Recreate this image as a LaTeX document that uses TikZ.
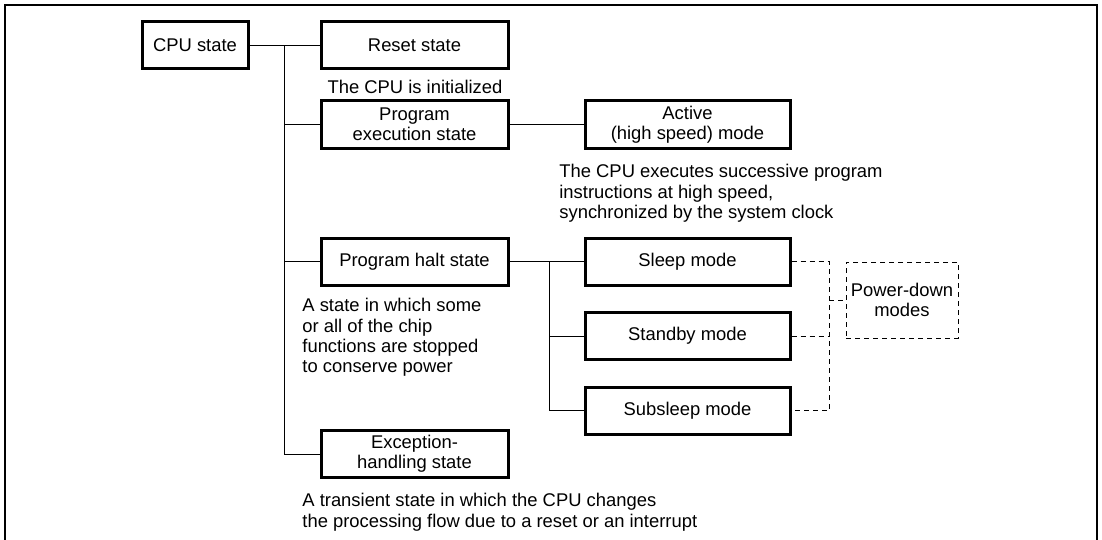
\documentclass[tikz,border=0pt]{standalone}
\usepackage{fontspec}
\setmainfont{Liberation Sans}
\begin{document}
\begin{tikzpicture}[x=0.5pt,y=-0.5pt]
\tikzstyle{every node}+=[inner sep=0pt, font=\fontsize{9.2}{10.2}\selectfont]
\tikzstyle{statebox}=[draw, line width=1.5pt, align=center, minimum width=93.5pt, minimum height=23.5pt]
\tikzstyle{modebox}=[statebox, minimum width=102.5pt]
\tikzstyle{note}=[align=left, anchor=north west]
\tikzstyle{link}=[line width=0.5pt]
\tikzstyle{dashlink}=[line width=0.5pt, dash pattern=on 2.5pt off 2pt]
\useasboundingbox (0,0) rectangle (1102,540);
\draw[line width=1pt] (5,545) -- (5,5) -- (1097,5) -- (1097,545);
% states
\node[statebox, minimum width=53pt] (cpu) at (195,45.5) {CPU state};
\node[statebox] (reset) at (414.5,45.5) {Reset state};
\node[statebox] (exec) at (414.5,124.5) {Program\\execution state};
\node[statebox] (halt) at (414.5,261.5) {Program halt state};
\node[statebox] (exc) at (414.5,454) {Exception-\\handling state};
% modes
\node[modebox] (active) at (687.5,124.5) {Active\\(high speed) mode};
\node[modebox] (sleep) at (687.5,261.5) {Sleep mode};
\node[modebox] (standby) at (687.5,336) {Standby mode};
\node[modebox] (subsleep) at (687.5,410.5) {Subsleep mode};
\node[draw, dashlink, align=center, minimum width=56pt, minimum height=38pt] (power) at (902,300) {Power-down\\modes};
% notes
\node (resetnote) at (415,87) {The CPU is initialized};
\node[note] (activenote) at (559,164) {The CPU executes successive program\\instructions at high speed,\\synchronized by the system clock};
\node[note] (haltnote) at (302,298) {A state in which some\\or all of the chip\\functions are stopped\\to conserve power};
\node[note] (excnote) at (302,493) {A transient state in which the CPU changes\\the processing flow due to a reset or an interrupt};
% tree lines
\coordinate (trunk) at (284,0);
\coordinate (fork) at (549,0);
\coordinate (join) at (829,0);
\draw[link] (cpu.east) -- (reset.west);
\draw[link] (trunk |- reset.west) |- (exc.west);
\draw[link] (trunk |- exec.west) -- (exec.west);
\draw[link] (trunk |- halt.west) -- (halt.west);
\draw[link] (exec.east) -- (active.west);
\draw[link] (halt.east) -- (sleep.west);
\draw[link] (fork |- sleep.west) |- (subsleep.west);
\draw[link] (fork |- standby.west) -- (standby.west);
\draw[dashlink] (sleep.east) -| (join |- subsleep.east) -- (subsleep.east);
\draw[dashlink] (standby.east) -- (join |- standby.east);
\draw[dashlink] (join |- power.west) -- (power.west);
\end{tikzpicture}
\end{document}
